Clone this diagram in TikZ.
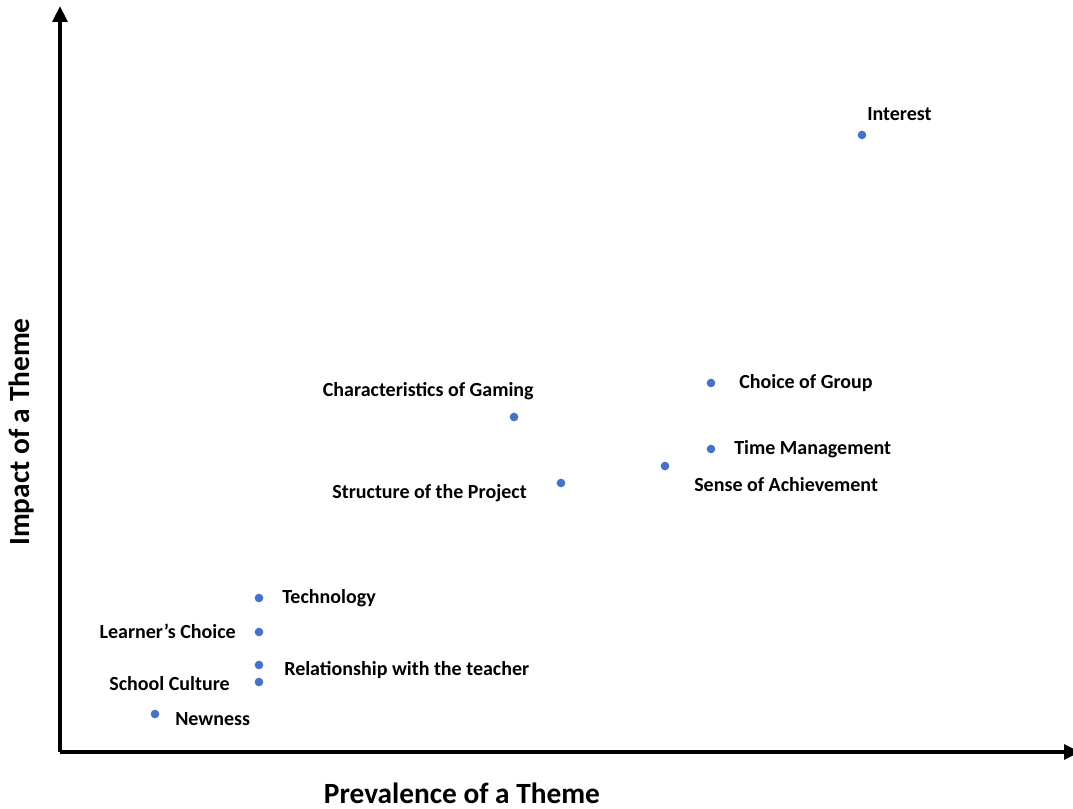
\documentclass[tikz,border=0pt]{standalone}
\usepackage{fontspec}
\setmainfont{Carlito}
\usetikzlibrary{arrows.meta}
\definecolor{B4}{RGB}{68,114,196}
\tikzset{dot/.style={circle,fill=B4,inner sep=0pt,minimum size=6.5pt},
         lbl/.style={font=\fontsize{15}{15}\selectfont\bfseries,inner sep=0pt,yshift=-1.5pt},
         ttl/.style={font=\fontsize{22}{22}\selectfont\bfseries,inner sep=0pt}}

\begin{document}
\begin{tikzpicture}[x=0.75pt,y=-0.75pt]
      \useasboundingbox (0,0) rectangle (1073,809);
      \coordinate (o) at (60,752);
      \coordinate (ytop) at (60,6);
      \coordinate (xend) at (1080,752);
      \draw[line width=3pt, -{Triangle[length=12pt,width=11pt]}] (o)--(ytop);
      \draw[line width=3pt, -{Triangle[length=12pt,width=11pt]}] (o)--(xend);
      \node[ttl] (xlab) at (462,793) {Prevalence of a Theme};
      \node[ttl, rotate=90] (ylab) at (22,432) {Impact of a Theme};
      % themes
      \node[dot] (int) at (862,135) {};   \node[lbl, anchor=west] (intl) at (867,112) {Interest};
      \node[dot] (cog) at (711,383) {};   \node[lbl, anchor=west] (cogl) at (739,381) {Choice of Group};
      \node[dot] (gam) at (514,417) {};   \node[lbl, anchor=east] (gaml) at (534,389) {Characteristics of Gaming};
      \node[dot] (tim) at (711,449) {};   \node[lbl, anchor=west] (timl) at (734,447) {Time Management};
      \node[dot] (ach) at (665,466) {};   \node[lbl, anchor=west] (achl) at (694,483) {Sense of Achievement};
      \node[dot] (str) at (561,483) {};   \node[lbl, anchor=east] (strl) at (527,491) {Structure of the Project};
      \node[dot] (tec) at (259,598) {};   \node[lbl, anchor=west] (tecl) at (282,596) {Technology};
      \node[dot] (lea) at (259,632) {};   \node[lbl, anchor=east] (leal) at (236,629) {Learner’s Choice};
      \node[dot] (rel) at (259,665) {};   \node[lbl, anchor=west] (rell) at (284,668) {Relationship with the teacher};
      \node[dot] (sch) at (259,682) {};   \node[lbl, anchor=east] (schl) at (230,682) {School Culture};
      \node[dot] (new) at (155,714) {};   \node[lbl, anchor=west] (newl) at (175,717) {Newness};
\end{tikzpicture}
\end{document}
